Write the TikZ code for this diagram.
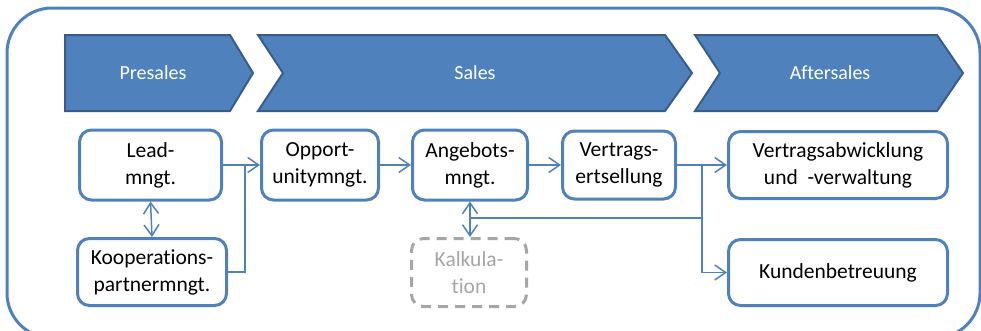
\documentclass[tikz,border=0pt]{standalone}
\usepackage{fontspec}
\setmainfont{Carlito}[Ligatures=CommonOff]
\usetikzlibrary{arrows.meta}
\definecolor{offblue}{HTML}{4F81BD}
\definecolor{offdark}{HTML}{385D8A}
\definecolor{offgray}{HTML}{A6A6A6}
\begin{document}
\begin{tikzpicture}[x=1pt,y=-1pt,
    phase/.style={fill=offblue,draw=offdark,line width=2pt,line join=miter},
    phasetext/.style={text=white,font=\fontsize{20}{24}\selectfont,inner sep=0},
    proc/.style={draw=offblue,line width=3pt,rounded corners=12pt,fill=white,align=center,inner sep=0,font=\fontsize{21.5}{27}\selectfont},
    aux/.style={proc,draw=offgray,text=offgray,dash pattern=on 10pt off 7pt},
    flow/.style={draw=offblue,line width=1.5pt,-{Straight Barb[length=11pt,width=15pt]}},
    both/.style={flow,{Straight Barb[length=11pt,width=15pt]}-{Straight Barb[length=11pt,width=15pt]}}]
        \useasboundingbox (0,0) rectangle (981,330);
        \draw[offblue,line width=3pt,rounded corners=45pt] (7,8) rectangle (980,338);
        % phases
        \draw[phase] (65,35) -- (230,35) -- (253,73) -- (230,111) -- (65,111) -- cycle;
        \draw[phase] (258,35) -- (665,35) -- (692,73) -- (665,111) -- (258,111) -- (283,73) -- cycle;
        \draw[phase] (695,35) -- (937,35) -- (963,73) -- (937,111) -- (695,111) -- (720,73) -- cycle;
        \node[phasetext] (pre) at (153,73) {Presales};
        \node[phasetext] (sal) at (475,73) {Sales};
        \node[phasetext] (aft) at (830,73) {Aftersales};
        % steps
        \node[proc,minimum width=142pt,minimum height=70pt] (lead) at (150.5,165) {Lead-\\mngt.};
        \node[proc,minimum width=149pt,minimum height=67pt] (koop) at (152,272) {Kooperations-\\partnermngt.};
        \node[proc,minimum width=117pt,minimum height=70pt] (opp) at (320,165) {Opport-\\unitymngt.};
        \node[proc,minimum width=115pt,minimum height=70pt] (ang) at (470,165) {Angebots-\\mngt.};
        \node[proc,minimum width=113pt,minimum height=68pt] (vert) at (619,165) {Vertrags-\\ertsellung};
        \node[proc,minimum width=219pt,minimum height=67pt] (vab) at (838,165) {Vertragsabwicklung\\und~ -verwaltung};
        \node[proc,minimum width=219pt,minimum height=66pt] (kund) at (838,272.5) {Kundenbetreuung};
        \node[aux,minimum width=115pt,minimum height=68pt] (kalk) at (469,272.5) {Kalkula-\\tion};
        \coordinate (j1) at (245,165);
        \coordinate (j2) at (702,165);
        \coordinate (j3) at (702,218);
        \coordinate (j4) at (470,218);
        % connectors
        \draw[flow] (lead.east) -- (opp.west);
        \draw[draw=offblue,line width=1.5pt] (koop.east) -| (j1);
        \draw[both] (lead.south) -- (koop.north);
        \draw[flow] (opp.east) -- (ang.west);
        \draw[flow] (ang.east) -- (vert.west);
        \draw[flow] (vert.east) -- (vab.west);
        \draw[flow] (j2) |- (kund.west);
        \draw[draw=offblue,line width=1.5pt] (j3) -- (j4);
        \draw[both] (ang.south) -- (ang.south |- kalk.north);
      \end{tikzpicture}
\end{document}
